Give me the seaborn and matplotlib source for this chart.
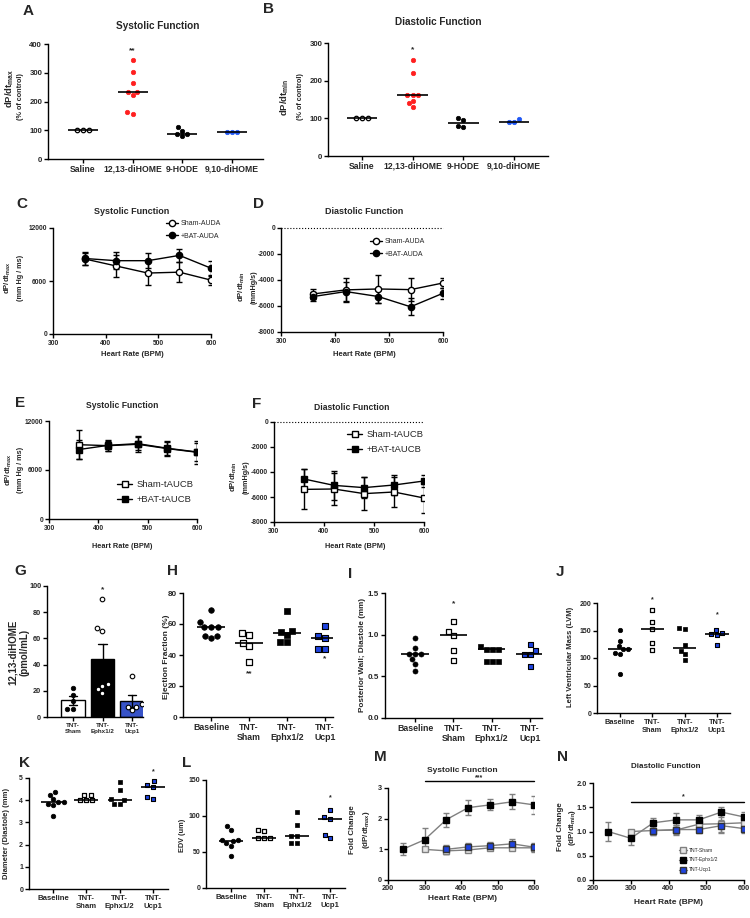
import matplotlib
matplotlib.use("Agg")
import matplotlib.pyplot as plt
import numpy as np
import pandas as pd
import seaborn as sns

sns.set_style("ticks")
plt.rcParams["font.family"] = ["Liberation Sans", "DejaVu Sans"]
plt.rcParams["font.weight"] = "bold"
plt.rcParams["axes.labelweight"] = "bold"
plt.rcParams["axes.unicode_minus"] = False
plt.rcParams["mathtext.fontset"] = "custom"
plt.rcParams["mathtext.rm"] = "Liberation Sans:bold"
plt.rcParams["mathtext.default"] = "rm"

# ------------------------------------------------
# Data
# ------------------------------------------------
# A / B: lipid injections, % of control
ab_cats = ["Saline", "12,13-diHOME", "9-HODE", "9,10-diHOME"]
a_saline = [100, 100, 100]
a_diHOME1213 = [343, 304, 264, 232, 232, 223, 163, 158]
a_HODE = [110, 98, 86, 86, 79]
a_diHOME910 = [93, 94, 93]
b_saline = [102, 102, 102]
b_diHOME1213 = [255, 221, 163, 163, 163, 147, 140, 131]
b_HODE = [100, 95, 80, 78]
b_diHOME910 = [90, 97, 90]

# C - F: dP/dt vs heart rate
hr = [360, 420, 480, 540, 600]
c_sham = [8500, 7700, 6900, 7000, 6100]
c_sham_err = [700, 1300, 1400, 1100, 600]
c_bat = [8550, 8300, 8300, 8900, 7450]
c_bat_err = [750, 950, 870, 700, 830]
d_sham = [-5070, -4760, -4690, -4740, -4230]
d_sham_err = [400, 900, 1100, 900, 400]
d_bat = [-5270, -4890, -5270, -6060, -5020]
d_bat_err = [350, 750, 500, 670, 430]
e_sham = [9100, 8980, 9150, 8620, 8170]
e_sham_err = [1750, 600, 1000, 900, 1400]
e_bat = [8500, 9020, 9230, 8660, 8210]
e_bat_err = [1200, 700, 800, 800, 1100]
f_sham = [-5390, -5360, -5730, -5600, -6080]
f_sham_err = [1600, 1300, 1300, 1200, 1160]
f_bat = [-4560, -5070, -5250, -5040, -4720]
f_bat_err = [830, 1150, 850, 770, 450]

# G: plasma 12,13-diHOME
g_cats = ["TNT-\nSham", "TNT-\nEphx1/2", "TNT-\nUcp1"]
g_sham = [22, 17, 12, 6, 6]
g_ephx = [90, 68, 66, 25, 24, 21, 18]
g_ucp1 = [31, 10, 8, 8, 5]

# H - L: echo parameters
echo_cats = ["Baseline", "TNT-\nSham", "TNT-\nEphx1/2", "TNT-\nUcp1"]
h_base = [69, 61, 58, 58, 58, 52.5, 52, 51]
h_sham = [54, 53, 48, 46, 35.5]
h_ephx = [68.5, 55.5, 55, 53, 48.5, 48.5]
h_ucp1 = [58.5, 52.5, 51, 44, 44]
i_base = [0.96, 0.84, 0.77, 0.77, 0.77, 0.71, 0.65, 0.57]
i_sham = [1.17, 1.04, 1.0, 0.82, 0.70]
i_ephx = [0.86, 0.83, 0.83, 0.83, 0.69, 0.69, 0.68]
i_ucp1 = [0.89, 0.82, 0.77, 0.77, 0.62]
j_base = [151, 131, 122, 116, 116, 110, 108, 71]
j_sham = [188, 166, 152, 128, 115]
j_ephx = [154, 152, 124, 113, 107, 97]
j_ucp1 = [151, 146, 144, 141, 124]
k_base = [4.35, 4.25, 4.05, 3.9, 3.9, 3.85, 3.8, 3.3]
k_sham = [4.25, 4.25, 4.0, 4.0, 4.0]
k_ephx = [4.8, 4.45, 4.05, 4.0, 3.85, 3.85]
k_ucp1 = [4.85, 4.7, 4.6, 4.15, 4.05]
l_base = [86, 81, 67, 66, 65, 62, 58, 44]
l_sham = [81, 79, 70, 69, 69]
l_ephx = [105, 87, 72, 72, 62, 62]
l_ucp1 = [108, 98, 95.5, 74, 70]

# M / N: fold change vs heart rate
mn_hr_ephx = [240, 300, 360, 420, 480, 540, 600]
mn_hr_sham = [300, 360, 420, 480, 540, 600]
mn_hr_ucp1 = [360, 420, 480, 540, 600]
m_ephx = [1.0, 1.31, 1.97, 2.36, 2.45, 2.55, 2.45]
m_ephx_err = [0.2, 0.38, 0.23, 0.25, 0.18, 0.25, 0.3]
m_sham = [1.0, 0.95, 0.98, 1.05, 1.05, 1.05]
m_sham_err = [0.05, 0.1, 0.08, 0.08, 0.08, 0.1]
m_ucp1 = [1.0, 1.08, 1.12, 1.18, 1.07]
m_ucp1_err = [0.15, 0.12, 0.12, 0.15, 0.15]
n_ephx = [1.0, 0.86, 1.18, 1.24, 1.24, 1.40, 1.30]
n_ephx_err = [0.2, 0.13, 0.1, 0.14, 0.1, 0.1, 0.1]
n_sham = [1.0, 1.02, 1.03, 1.15, 1.16, 1.18]
n_sham_err = [0.03, 0.1, 0.1, 0.1, 0.2, 0.1]
n_ucp1 = [1.02, 1.04, 1.04, 1.12, 1.06]
n_ucp1_err = [0.1, 0.1, 0.08, 0.12, 0.1]

RED = "#ff1f1f"
BLUE = "#1f57f5"
BAR_BLUE = "#1f44e0"
GREY = "#808080"

# ------------------------------------------------
# Figure helpers (pixel based layout)
# ------------------------------------------------
W, H = 750, 918
fig = plt.figure(figsize=(W / 100, H / 100), dpi=100)


def add_axes(left, top, right, bottom):
    return fig.add_axes([left / W, 1 - bottom / H, (right - left) / W, (bottom - top) / H])


def fig_text(x, y, s, size, rotation=0, weight="bold"):
    fig.text(x / W, 1 - y / H, s, fontsize=size, rotation=rotation,
             ha="center", va="center", fontweight=weight)


def style(ax, ysize, xsize):
    sns.despine(ax=ax)
    for side in ["left", "bottom"]:
        ax.spines[side].set_linewidth(1.0)
        ax.spines[side].set_color("black")
    ax.tick_params(width=1.0, length=3, pad=1.2, color="black")
    ax.tick_params(axis="y", labelsize=ysize)
    ax.tick_params(axis="x", labelsize=xsize)
    ax.set_xlabel("")
    ax.set_ylabel("")


def cat_xlim(ax, left, right, first, last, n):
    step = (last - first) / (n - 1)
    ax.set_xlim((left - first) / step, (right - first) / step)


def dot_panel(ax, cats, groups, looks, size, half):
    for cat, vals, look in zip(cats, groups, looks):
        sns.swarmplot(x=[cat] * len(vals), y=vals, order=cats, ax=ax,
                      size=size, zorder=3, **look)
    for i, vals in enumerate(groups):
        ax.hlines(np.median(vals), i - half, i + half, color="black", lw=1.2, zorder=4)


def series(ax, x, y, err, label, marker, face, edge, line, ms, ecolor="black"):
    sns.lineplot(x=x, y=y, ax=ax, color=line, linewidth=1, marker=marker,
                 markersize=ms, markerfacecolor=face, markeredgecolor=edge,
                 markeredgewidth=1, label=label, legend=False, zorder=3)
    ax.errorbar(x, y, yerr=err, fmt="none", ecolor=ecolor, elinewidth=1,
                capsize=2.5, capthick=1, zorder=2)


def legend_at(ax, x_text, y_mid, size, spacing, hl=1.6, pad=0.5):
    fs_px = size * 100 / 72
    x0 = x_text - (hl + pad) * fs_px
    ax.legend(loc="center left", bbox_to_anchor=(x0 / W, 1 - y_mid / H),
              bbox_transform=fig.transFigure, frameon=False,
              prop={"size": size, "weight": "normal"}, handlelength=hl,
              handletextpad=pad, labelspacing=spacing, borderpad=0, borderaxespad=0)


open_circle = dict(marker="o", color="white", edgecolor="black", linewidth=0.9)
black_circle = dict(marker="o", color="black", edgecolor="black", linewidth=0.5)
red_circle = dict(marker="o", color=RED, edgecolor=RED, linewidth=0.5)
blue_circle = dict(marker="o", color=BLUE, edgecolor=BLUE, linewidth=0.5)
open_square = dict(marker="s", color="white", edgecolor="black", linewidth=0.9)
black_square = dict(marker="s", color="black", edgecolor="black", linewidth=0.5)
blue_square = dict(marker="s", color=BAR_BLUE, edgecolor="black", linewidth=0.8)

# ------------------------------------------------
# A: systolic function, lipid injections
# ------------------------------------------------
ax = add_axes(48, 44, 263, 159)
dot_panel(ax, ab_cats, [a_saline, a_diHOME1213, a_HODE, a_diHOME910],
          [open_circle, red_circle, black_circle, blue_circle], 3.2, 0.3)
cat_xlim(ax, 48, 263, 83, 232, 4)
ax.set_ylim(0, 400)
ax.set_yticks(range(0, 401, 100))
style(ax, 5.6, 6.2)
ax.text(1, 375, "**", ha="center", va="center", fontsize=6)
fig_text(158, 26, "Systolic Function", 7.2)
fig_text(10, 88, r"dP/dt$_{max}$", 6.8, rotation=90)
fig_text(21, 97, "(% of control)", 5.2, rotation=90)
fig_text(28, 11, "A", 11)

# ------------------------------------------------
# B: diastolic function, lipid injections
# ------------------------------------------------
ax = add_axes(328, 43, 548, 156)
dot_panel(ax, ab_cats, [b_saline, b_diHOME1213, b_HODE, b_diHOME910],
          [open_circle, red_circle, black_circle, blue_circle], 3.2, 0.3)
cat_xlim(ax, 328, 548, 362, 514, 4)
ax.set_ylim(0, 300)
ax.set_yticks(range(0, 301, 100))
style(ax, 5.6, 6.2)
ax.text(1, 283, "*", ha="center", va="center", fontsize=6)
fig_text(438, 22, "Diastolic Function", 7.2)
fig_text(285, 97, r"dP/dt$_{min}$", 6.8, rotation=90)
fig_text(300, 97, "(% of control)", 5.2, rotation=90)
fig_text(268, 9, "B", 11)

# ------------------------------------------------
# C: systolic function, AUDA
# ------------------------------------------------
ax = add_axes(53, 228, 211, 334)
series(ax, hr, c_sham, c_sham_err, "Sham-AUDA", "o", "white", "black", "black", 4.5)
series(ax, hr, c_bat, c_bat_err, "+BAT-AUDA", "o", "black", "black", "black", 4.5)
ax.set_xlim(300, 600)
ax.set_ylim(0, 12000)
ax.set_xticks([300, 400, 500, 600])
ax.set_yticks([0, 6000, 12000])
style(ax, 4.8, 4.8)
legend_at(ax, 181, 230, 5, 0.75)
fig_text(132, 212, "Systolic Function", 6.5)
fig_text(132, 355, "Heart Rate (BPM)", 5.5)
fig_text(8, 278, r"dP/dt$_{max}$", 5.6, rotation=90)
fig_text(20, 278, "(mm Hg / ms)", 5.2, rotation=90)
fig_text(22, 204, "C", 11)

# ------------------------------------------------
# D: diastolic function, AUDA
# ------------------------------------------------
ax = add_axes(281, 228, 443, 332)
ax.axhline(0, color="black", ls=":", lw=0.8, clip_on=False)
series(ax, hr, d_sham, d_sham_err, "Sham-AUDA", "o", "white", "black", "black", 4.5)
series(ax, hr, d_bat, d_bat_err, "+BAT-AUDA", "o", "black", "black", "black", 4.5)
ax.set_xlim(300, 600)
ax.set_ylim(-8000, 0)
ax.set_xticks([300, 400, 500, 600])
ax.set_yticks(range(-8000, 1, 2000))
style(ax, 4.8, 4.8)
legend_at(ax, 385, 248, 5, 0.75)
fig_text(364, 211, "Diastolic Function", 6.5)
fig_text(364, 355, "Heart Rate (BPM)", 5.5)
fig_text(242, 287, r"dP/dt$_{min}$", 5.6, rotation=90)
fig_text(254, 287, "(mmHg/s)", 5.2, rotation=90)
fig_text(258, 204, "D", 11)

# ------------------------------------------------
# E: systolic function, tAUCB
# ------------------------------------------------
ax = add_axes(49, 421, 197, 519)
series(ax, hr, e_sham, e_sham_err, "Sham-tAUCB", "s", "white", "black", "black", 4.2)
series(ax, hr, e_bat, e_bat_err, "+BAT-tAUCB", "s", "black", "black", "black", 4.2)
ax.set_xlim(300, 600)
ax.set_ylim(0, 12000)
ax.set_xticks([300, 400, 500, 600])
ax.set_yticks([0, 6000, 12000])
style(ax, 4.8, 4.8)
legend_at(ax, 137, 492, 6.8, 0.6)
fig_text(122, 405, "Systolic Function", 6.2)
fig_text(122, 547, "Heart Rate (BPM)", 5.3)
fig_text(9, 470, r"dP/dt$_{max}$", 5.6, rotation=90)
fig_text(21, 470, "(mm Hg / ms)", 5.2, rotation=90)
fig_text(20, 403, "E", 11)

# ------------------------------------------------
# F: diastolic function, tAUCB
# ------------------------------------------------
ax = add_axes(274, 422, 424, 522)
ax.axhline(0, color="black", ls=":", lw=0.8, clip_on=False)
series(ax, hr, f_sham, f_sham_err, "Sham-tAUCB", "s", "white", "black", "black", 4.2)
series(ax, hr, f_bat, f_bat_err, "+BAT-tAUCB", "s", "black", "black", "black", 4.2)
ax.set_xlim(300, 600)
ax.set_ylim(-8000, 0)
ax.set_xticks([300, 400, 500, 600])
ax.set_yticks(range(-8000, 1, 2000))
style(ax, 4.8, 4.8)
legend_at(ax, 367, 442, 6.8, 0.6)
fig_text(352, 407, "Diastolic Function", 6.2)
fig_text(355, 547, "Heart Rate (BPM)", 5.3)
fig_text(234, 477, r"dP/dt$_{min}$", 5.6, rotation=90)
fig_text(246, 477, "(mmHg/s)", 5.2, rotation=90)
fig_text(257, 404, "F", 11)

# ------------------------------------------------
# G: plasma 12,13-diHOME bar chart
# ------------------------------------------------
ax = add_axes(47, 586, 143, 717)
df_g = pd.DataFrame({
    "group": np.repeat(g_cats, [len(g_sham), len(g_ephx), len(g_ucp1)]),
    "value": g_sham + g_ephx + g_ucp1,
})
sns.barplot(data=df_g, x="group", y="value", order=g_cats, hue="group",
            palette=dict(zip(g_cats, ["white", "black", BAR_BLUE])), legend=False,
            errorbar="se", capsize=0.3, err_kws={"color": "black", "linewidth": 1},
            edgecolor="black", linewidth=1, width=0.78, ax=ax)
open_white = dict(marker="o", color="white", edgecolor="black", linewidth=0.8)
for cat, vals, look in zip(g_cats, [g_sham, g_ephx, g_ucp1],
                           [black_circle, open_white, open_white]):
    sns.swarmplot(x=[cat] * len(vals), y=vals, order=g_cats, ax=ax, size=3.3,
                  zorder=4, **look)
cat_xlim(ax, 47, 143, 73, 132, 3)
ax.set_ylim(0, 100)
ax.set_yticks(range(0, 101, 20))
style(ax, 5.3, 4.5)
ax.text(1, 97, "*", ha="center", va="center", fontsize=6)
fig_text(13, 652, "12,13-diHOME", 7.0, rotation=90)
fig_text(25, 652, "(pmol/mL)", 7.0, rotation=90)
fig_text(20, 571, "G", 11)

# ------------------------------------------------
# H - L: echo dot plots
# ------------------------------------------------
echo_looks = [black_circle, open_square, black_square, blue_square]

ax = add_axes(183, 593, 333, 717)
dot_panel(ax, echo_cats, [h_base, h_sham, h_ephx, h_ucp1], echo_looks, 4.0, 0.36)
cat_xlim(ax, 183, 333, 211, 325, 4)
ax.set_ylim(0, 80)
ax.set_yticks(range(0, 81, 20))
style(ax, 5.8, 6.3)
ax.text(1, 28, "**", ha="center", va="center", fontsize=6)
ax.text(3, 37.5, "*", ha="center", va="center", fontsize=6)
fig_text(166, 657, "Ejection Fraction (%)", 6.0, rotation=90)
fig_text(172, 571, "H", 11)

ax = add_axes(385, 593, 542, 718)
dot_panel(ax, echo_cats, [i_base, i_sham, i_ephx, i_ucp1], echo_looks, 3.6, 0.36)
cat_xlim(ax, 385, 542, 415, 530, 4)
ax.set_ylim(0, 1.5)
ax.set_yticks([0.0, 0.5, 1.0, 1.5])
style(ax, 5.8, 6.3)
ax.text(1, 1.37, "*", ha="center", va="center", fontsize=6)
fig_text(363, 655, "Posterior Wall; Diastole (mm)", 5.9, rotation=90)
fig_text(350, 574, "I", 11)

ax = add_axes(597, 603, 730, 713)
dot_panel(ax, echo_cats, [j_base, j_sham, j_ephx, j_ucp1], echo_looks, 3.2, 0.36)
cat_xlim(ax, 597, 730, 620, 717, 4)
ax.set_ylim(0, 200)
ax.set_yticks(range(0, 201, 50))
style(ax, 5.0, 5.3)
ax.text(1, 206, "*", ha="center", va="center", fontsize=5)
ax.text(3, 178, "*", ha="center", va="center", fontsize=5)
fig_text(570, 657, "Left Ventricular Mass (LVM)", 5.5, rotation=90)
fig_text(560, 572, "J", 11)

ax = add_axes(29, 778, 168, 889)
dot_panel(ax, echo_cats, [k_base, k_sham, k_ephx, k_ucp1], echo_looks, 3.3, 0.36)
cat_xlim(ax, 29, 168, 53, 153, 4)
ax.set_ylim(0, 5)
ax.set_yticks(range(0, 6))
style(ax, 5.0, 5.6)
ax.text(3, 5.3, "*", ha="center", va="center", fontsize=5)
fig_text(7, 833, "Diameter (Diastole) (mm)", 5.5, rotation=90)
fig_text(24, 763, "K", 11)

ax = add_axes(206, 780, 345, 888)
dot_panel(ax, echo_cats, [l_base, l_sham, l_ephx, l_ucp1], echo_looks, 3.3, 0.36)
cat_xlim(ax, 206, 345, 231, 330, 4)
ax.set_ylim(0, 150)
ax.set_yticks(range(0, 151, 50))
style(ax, 5.0, 5.6)
ax.text(3, 125, "*", ha="center", va="center", fontsize=5)
fig_text(182, 835, "EDV (um)", 5.3, rotation=90)
fig_text(187, 763, "L", 11)

# ------------------------------------------------
# M / N: fold change vs heart rate
# ------------------------------------------------
ax = add_axes(388, 788, 534, 880)
series(ax, mn_hr_sham, m_sham, m_sham_err, "TNT-Sham", "s", "#e6e6e6", GREY, GREY, 4.3, GREY)
series(ax, mn_hr_ephx, m_ephx, m_ephx_err, "TNT-Ephx1/2", "s", "black", "black", GREY, 4.3, GREY)
series(ax, mn_hr_ucp1, m_ucp1, m_ucp1_err, "TNT-Ucp1", "s", BAR_BLUE, "#333333", GREY, 4.3, GREY)
ax.set_xlim(200, 600)
ax.set_ylim(0, 3)
ax.set_xticks(range(200, 601, 100))
ax.set_yticks(range(0, 4))
style(ax, 5.3, 5.3)
ax.tick_params(axis="x", pad=0.8)
ax.plot([300, 600], [3.22, 3.22], color="black", lw=1, clip_on=False)
ax.text(450, 3.32, "***", ha="center", va="center", fontsize=5)
fig_text(462, 770, "Systolic Function", 6.0)
fig_text(462, 899, "Heart Rate (BPM)", 6.0)
fig_text(353, 830, "Fold Change", 5.8, rotation=90)
fig_text(366, 830, r"(dP/dt$_{max}$)", 5.8, rotation=90)
fig_text(380, 757, "M", 11)

ax = add_axes(593, 783, 744, 880)
series(ax, mn_hr_sham, n_sham, n_sham_err, "TNT-Sham", "s", "#e6e6e6", GREY, GREY, 4.3, GREY)
series(ax, mn_hr_ephx, n_ephx, n_ephx_err, "TNT-Ephx1/2", "s", "black", "black", GREY, 4.3, GREY)
series(ax, mn_hr_ucp1, n_ucp1, n_ucp1_err, "TNT-Ucp1", "s", BAR_BLUE, "#333333", GREY, 4.3, GREY)
ax.set_xlim(200, 600)
ax.set_ylim(0, 2)
ax.set_xticks(range(200, 601, 100))
ax.set_yticks([0.0, 0.5, 1.0, 1.5, 2.0])
style(ax, 5.3, 5.3)
ax.tick_params(axis="x", pad=0.8)
ax.plot([300, 600], [1.6, 1.6], color="black", lw=1, clip_on=False)
ax.text(440, 1.72, "*", ha="center", va="center", fontsize=5)
legend_at(ax, 689, 860, 3.6, 1.0)
fig_text(666, 767, "Diastolic Function", 5.8)
fig_text(668, 903, "Heart Rate (BPM)", 6.0)
fig_text(560, 827, "Fold Change", 5.8, rotation=90)
fig_text(573, 827, r"(dP/dt$_{min}$)", 5.8, rotation=90)
fig_text(562, 757, "N", 11)

fig.savefig("out.png", dpi=100)
